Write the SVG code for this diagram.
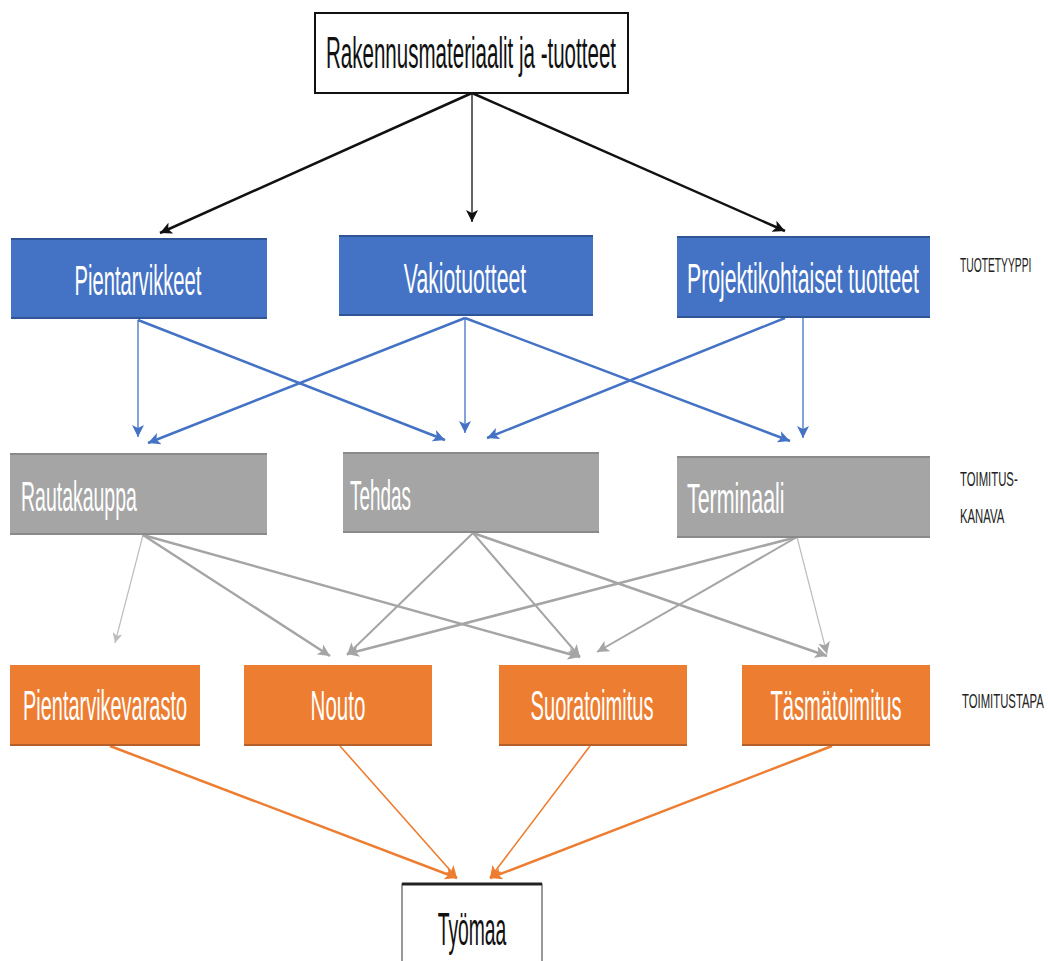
<svg xmlns="http://www.w3.org/2000/svg" width="1048" height="961" viewBox="0 0 1048 961">
<style>
  .t { font-family: "Liberation Sans", Arial, sans-serif; }
  .m { text-anchor: middle; }
  .w { fill: #ffffff; font-size: 42px; }
  .k { fill: #111111; }
  .side { fill: #222222; font-size: 21px; }
  .blue { fill: #4472C4; }
  .gray { fill: #A5A5A5; }
  .orng { fill: #ED7D31; }
  .cb { stroke: #111111; fill: none; }
  .cl { stroke: #4472C4; fill: none; }
  .cg { stroke: #A5A5A5; fill: none; }
  .cgl { stroke: #BDBDBD; fill: none; }
  .co { stroke: #ED7D31; fill: none; }
</style>
<defs>
  <marker id="ak" markerUnits="userSpaceOnUse" markerWidth="14" markerHeight="12" refX="12" refY="6" orient="auto">
    <path d="M0,0 L12,6 L0,12 L3,6 z" fill="#111111"/>
  </marker>
  <marker id="ab" markerUnits="userSpaceOnUse" markerWidth="14" markerHeight="12" refX="12" refY="6" orient="auto">
    <path d="M0,0 L12,6 L0,12 L3,6 z" fill="#4472C4"/>
  </marker>
  <marker id="ag" markerUnits="userSpaceOnUse" markerWidth="14" markerHeight="12" refX="12" refY="6" orient="auto">
    <path d="M0,0 L12,6 L0,12 L3,6 z" fill="#A5A5A5"/>
  </marker>
  <marker id="agl" markerUnits="userSpaceOnUse" markerWidth="12" markerHeight="10" refX="10" refY="5" orient="auto">
    <path d="M0,0 L10,5 L0,10 L2.5,5 z" fill="#BDBDBD"/>
  </marker>
  <marker id="ao" markerUnits="userSpaceOnUse" markerWidth="14" markerHeight="12" refX="12" refY="6" orient="auto">
    <path d="M0,0 L12,6 L0,12 L3,6 z" fill="#ED7D31"/>
  </marker>
</defs>
<rect width="1048" height="961" fill="#ffffff"/>

<g id="connectors">
  <line class="cb" x1="472" y1="93" x2="160" y2="233" stroke-width="2.5" marker-end="url(#ak)"/>
  <line class="cb" x1="472" y1="93" x2="472" y2="222" stroke-width="1.3" marker-end="url(#ak)"/>
  <line class="cb" x1="472" y1="93" x2="785" y2="231" stroke-width="2.5" marker-end="url(#ak)"/>

  <line class="cl" x1="138" y1="320" x2="138" y2="437" stroke-width="1.3" marker-end="url(#ab)"/>
  <line class="cl" x1="138" y1="320" x2="445" y2="440" stroke-width="2.5" marker-end="url(#ab)"/>
  <line class="cl" x1="465" y1="318" x2="148" y2="443" stroke-width="2.5" marker-end="url(#ab)"/>
  <line class="cl" x1="465" y1="318" x2="465" y2="433" stroke-width="1.3" marker-end="url(#ab)"/>
  <line class="cl" x1="465" y1="318" x2="790" y2="441" stroke-width="2.5" marker-end="url(#ab)"/>
  <line class="cl" x1="785" y1="318" x2="487" y2="438" stroke-width="2.5" marker-end="url(#ab)"/>
  <line class="cl" x1="803" y1="318" x2="803" y2="438" stroke-width="1.3" marker-end="url(#ab)"/>

  <line class="cgl" x1="143" y1="535" x2="115" y2="643" stroke-width="1.2" marker-end="url(#agl)"/>
  <line class="cg" x1="143" y1="535" x2="330" y2="656" stroke-width="2.5" marker-end="url(#ag)"/>
  <line class="cg" x1="143" y1="535" x2="580" y2="657" stroke-width="2.5" marker-end="url(#ag)"/>
  <line class="cg" x1="473" y1="533" x2="347" y2="655" stroke-width="2" marker-end="url(#ag)"/>
  <line class="cg" x1="473" y1="533" x2="580" y2="657" stroke-width="2" marker-end="url(#ag)"/>
  <line class="cg" x1="473" y1="533" x2="827" y2="656" stroke-width="2.5" marker-end="url(#ag)"/>
  <line class="cg" x1="797" y1="537" x2="347" y2="654" stroke-width="2.5" marker-end="url(#ag)"/>
  <line class="cg" x1="797" y1="537" x2="597" y2="652" stroke-width="2" marker-end="url(#ag)"/>
  <line class="cgl" x1="797" y1="537" x2="827" y2="654" stroke-width="1.2" marker-end="url(#ag)"/>

  <line class="co" x1="110" y1="746" x2="457" y2="878" stroke-width="2.5" marker-end="url(#ao)"/>
  <line class="co" x1="340" y1="746" x2="457" y2="878" stroke-width="1.6" marker-end="url(#ao)"/>
  <line class="co" x1="590" y1="746" x2="490" y2="878" stroke-width="1.6" marker-end="url(#ao)"/>
  <line class="co" x1="832" y1="746" x2="490" y2="878" stroke-width="2.5" marker-end="url(#ao)"/>
</g>

<g id="node-top">
  <rect x="315" y="13" width="313" height="80" fill="#ffffff" stroke="#111111" stroke-width="2"/>
  <text class="t k m" font-size="44" transform="translate(471,68) scale(0.467,1)">Rakennusmateriaalit ja -tuotteet</text>
</g>

<g id="node-pientarvikkeet">
  <rect class="blue" x="11" y="238" width="256" height="81"/>
  <line x1="11" y1="239" x2="267" y2="239" stroke="#2F5597" stroke-width="2"/>
  <line x1="11" y1="318" x2="267" y2="318" stroke="#2F5597" stroke-width="2"/>
  <text class="t w m" transform="translate(138,295) scale(0.481,1)">Pientarvikkeet</text>
</g>
<g id="node-vakiotuotteet">
  <rect class="blue" x="339" y="235" width="254" height="81"/>
  <line x1="339" y1="236" x2="593" y2="236" stroke="#2F5597" stroke-width="2"/>
  <line x1="339" y1="315" x2="593" y2="315" stroke="#2F5597" stroke-width="2"/>
  <text class="t w m" transform="translate(465,293) scale(0.506,1)">Vakiotuotteet</text>
</g>
<g id="node-projektikohtaiset">
  <rect class="blue" x="677" y="236" width="253" height="82"/>
  <line x1="677" y1="237" x2="930" y2="237" stroke="#2F5597" stroke-width="2"/>
  <line x1="677" y1="317" x2="930" y2="317" stroke="#2F5597" stroke-width="2"/>
  <text class="t w m" transform="translate(803,293) scale(0.504,1)">Projektikohtaiset tuotteet</text>
</g>

<g id="label-tuotetyyppi">
  <text class="t side" transform="translate(960,272) scale(0.49,1)">TUOTETYYPPI</text>
</g>

<g id="node-rautakauppa">
  <rect class="gray" x="10" y="453" width="257" height="82"/>
  <line x1="10" y1="454" x2="267" y2="454" stroke="#8A8A8A" stroke-width="2"/>
  <line x1="10" y1="534" x2="267" y2="534" stroke="#8A8A8A" stroke-width="2"/>
  <text class="t w" transform="translate(21,511) scale(0.464,1)">Rautakauppa</text>
</g>
<g id="node-tehdas">
  <rect class="gray" x="343" y="452" width="256" height="81"/>
  <line x1="343" y1="453" x2="599" y2="453" stroke="#8A8A8A" stroke-width="2"/>
  <line x1="343" y1="532" x2="599" y2="532" stroke="#8A8A8A" stroke-width="2"/>
  <text class="t w" transform="translate(350,510) scale(0.45,1)">Tehdas</text>
</g>
<g id="node-terminaali">
  <rect class="gray" x="677" y="456" width="253" height="82"/>
  <line x1="677" y1="457" x2="930" y2="457" stroke="#8A8A8A" stroke-width="2"/>
  <line x1="677" y1="537" x2="930" y2="537" stroke="#8A8A8A" stroke-width="2"/>
  <text class="t w" transform="translate(687,513) scale(0.51,1)">Terminaali</text>
</g>

<g id="label-toimituskanava">
  <text class="t side" transform="translate(960,486) scale(0.54,1)">TOIMITUS-</text>
  <text class="t side" transform="translate(960,523) scale(0.54,1)">KANAVA</text>
</g>

<g id="node-pientarvikevarasto">
  <rect class="orng" x="10" y="665" width="190" height="81"/>
  <line x1="10" y1="745" x2="200" y2="745" stroke="#B5602A" stroke-width="2"/>
  <text class="t w m" transform="translate(105,720) scale(0.475,1)">Pientarvikevarasto</text>
</g>
<g id="node-nouto">
  <rect class="orng" x="244" y="665" width="188" height="81"/>
  <line x1="244" y1="745" x2="432" y2="745" stroke="#B5602A" stroke-width="2"/>
  <text class="t w m" transform="translate(338,720) scale(0.49,1)">Nouto</text>
</g>
<g id="node-suoratoimitus">
  <rect class="orng" x="499" y="665" width="188" height="81"/>
  <line x1="499" y1="745" x2="687" y2="745" stroke="#B5602A" stroke-width="2"/>
  <text class="t w m" transform="translate(592,720) scale(0.479,1)">Suoratoimitus</text>
</g>
<g id="node-tasmatoimitus">
  <rect class="orng" x="742" y="665" width="188" height="81"/>
  <line x1="742" y1="745" x2="930" y2="745" stroke="#B5602A" stroke-width="2"/>
  <text class="t w m" transform="translate(836,720) scale(0.48,1)">Täsmätoimitus</text>
</g>

<g id="label-toimitustapa">
  <text class="t side" transform="translate(962,708) scale(0.54,1)">TOIMITUSTAPA</text>
</g>

<g id="node-tyomaa">
  <rect x="402" y="884" width="140" height="80" fill="#ffffff" stroke="#555555" stroke-width="1.2"/>
  <line x1="402" y1="884" x2="542" y2="884" stroke="#222222" stroke-width="3"/>
  <text class="t k m" font-size="46" transform="translate(472,945) scale(0.42,1)">Työmaa</text>
</g>
</svg>
